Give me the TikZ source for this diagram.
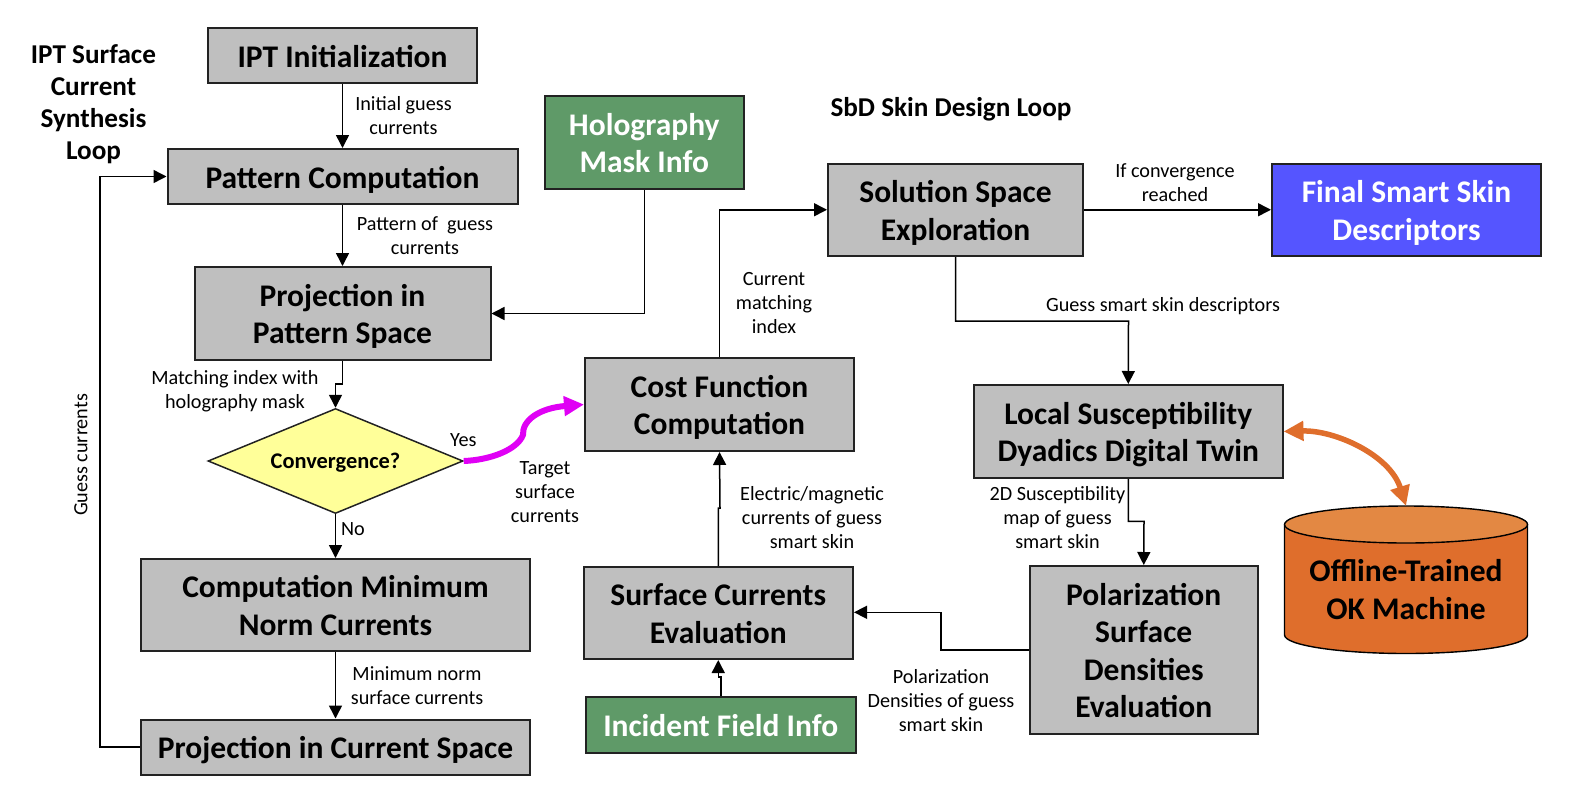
\documentclass[tikz,border=0pt]{standalone}
\usepackage{fontspec}
\setmainfont{Carlito}
\usetikzlibrary{arrows.meta,shapes.geometric,calc}
\definecolor{boxgray}{HTML}{BFBFBF}
\definecolor{dk}{HTML}{222222}
\definecolor{holo}{HTML}{5F9A68}
\definecolor{finalb}{HTML}{5555FF}
\definecolor{orangeb}{HTML}{DF6E2C}
\definecolor{oranget}{HTML}{E38843}
\definecolor{magn}{HTML}{E000F5}
\definecolor{yell}{HTML}{FFFF99}
\tikzset{
 x=1pt,y=-1pt,
 box/.style={draw=dk,line width=2pt,fill=boxgray,align=center,font=\fontsize{31.5}{37.6}\selectfont\bfseries,inner sep=0pt,text=black,text depth=6pt},
 green box/.style={box,fill=holo,text=white},
 blue box/.style={box,fill=finalb,text=white},
 lab/.style={align=center,font=\fontsize{20.2}{24}\selectfont,inner sep=0pt,text=black},
 title/.style={align=center,font=\fontsize{27.2}{32}\selectfont\bfseries,inner sep=0pt,text=black},
 conn/.style={draw=black,line width=1.5pt,-{Triangle[length=13pt,width=13pt]}},
}
\newcommand{\bx}[7][box]{\node[#1,minimum width={#4-#3},minimum height={#6-#5}] (#2) at ({(#3+#4)/2},{(#5+#6)/2}) {\rule{0pt}{29pt}#7};}
\begin{document}
\begin{tikzpicture}
\useasboundingbox (0,0) rectangle (1592,806);
\bx{init}{208}{477}{28}{83}{IPT Initialization}
\bx{patt}{167.5}{517.5}{149}{204}{Pattern Computation}
\bx{proj}{194.5}{490.5}{267}{360}{Projection in\\Pattern Space}
\bx[green box]{holo}{544.5}{744}{96}{189}{Holography\\Mask Info}
\node[diamond,aspect=2.44,draw=dk,line width=1.5pt,fill=yell,inner sep=0pt,minimum width=255pt,minimum height=105pt,font=\fontsize{22.4}{24}\selectfont\bfseries,text depth=1pt] (conv) at (335.5,461) {Convergence?};
\bx{minn}{141}{530}{559}{651}{Computation Minimum\\Norm Currents}
\bx{pcur}{141}{530}{719.5}{774.5}{Projection in Current Space}
\bx{cost}{585}{854}{358}{451}{Cost Function\\Computation}
\bx{surf}{583.5}{853}{567}{659}{Surface Currents\\Evaluation}
\bx[green box]{inc}{586}{855.5}{697}{753}{Incident Field Info}
\bx{sol}{828}{1083}{163.5}{256}{Solution Space\\Exploration}
\bx[blue box]{fin}{1272}{1541}{163.5}{256}{Final Smart Skin\\Descriptors}
\bx{loc}{973.5}{1283}{385}{478}{Local Susceptibility\\Dyadics Digital Twin}
\bx{pol}{1029.5}{1258}{566}{734}{Polarization\\Surface\\Densities\\Evaluation}
% cylinder
\coordinate (cylT) at (1406,506);
\path[draw=black,line width=1.4pt,fill=orangeb] (1284.5,525) -- (1284.5,635) arc[start angle=180,end angle=360,x radius=121.5,y radius=-18.5] -- (1527.5,525) -- cycle;
\path[draw=black,line width=1.4pt,fill=oranget] (1406,524.5) ellipse [x radius=121.5,y radius=18.5];
\node[align=center,font=\fontsize{31.5}{37.6}\selectfont\bfseries,inner sep=0pt,text depth=6pt] (okm) at (1406,590) {\rule{0pt}{27pt}Offline-Trained\\OK Machine};
% connectors
\draw[conn] (init.south) -- (init.south |- patt.north);
\draw[conn] (patt.south) -- (patt.south |- proj.north);
\draw[conn] (holo.south) |- (proj.east);
\coordinate (e1) at (335.5,384);
\draw[conn] (proj.south) |- (e1) -- (conv.north);
\draw[conn] (conv.south) -- (conv.south |- minn.north);
\draw[conn] (minn.south) -- (pcur.north);
\coordinate (l1) at (100,176.5);
\draw[conn] (pcur.west) -| (l1) -- (patt.west);
\coordinate (j1) at (720,508);
\draw[conn] (surf.north) |- (j1) -- (cost.south);
\draw[conn] (inc.north) -- ++(0,-19) -| (surf.south);
\draw[conn] (cost.north) |- (sol.west);
\draw[conn] (sol.east) -- (fin.west);
\coordinate (m1) at (1128.5,321);
\draw[conn] (sol.south) |- (m1) -- (loc.north);
\coordinate (m2) at (1144,521.3);
\draw[conn] (loc.south) |- (m2) -- (pol.north);
\coordinate (m3) at (941,612.3);
\draw[conn] (pol.west) -| (m3) -- (surf.east |- m3);
\draw[draw=magn,line width=6pt,-{Triangle[length=20pt,width=19pt]}] (conv.east) .. controls (490,460) and (517,450) .. (523,435) .. controls (522,420) and (540,408) .. (cost.west);
\draw[draw=orangeb,line width=5.5pt,{Triangle[length=20pt,width=19pt]}-{Triangle[length=20pt,width=19pt]}] (1283.5,431.5) .. controls (1335,430) and (1390,455) .. (cylT);
% labels
\node[title] at (93.5,104) {IPT Surface\\Current\\Synthesis\\Loop};
\node[title] (t2) at (951,109) {SbD Skin Design Loop};
\node[lab] at (403.5,116) {Initial guess\\currents};
\node[lab] at (425,236) {Pattern of\ \ guess\\currents};
\node[lab] at (235,391) {Matching index with\\holography mask};
\node[lab,anchor=west] at (450,440.5) {Yes};
\node[lab] at (353,529) {No};
\node[lab] at (545,492) {Target\\surface\\currents};
\node[lab,rotate=90] at (81,455) {Guess currents};
\node[lab] at (417,686) {Minimum norm\\surface currents};
\node[lab] at (774,303) {Current\\matching\\index};
\node[lab] at (812,518) {Electric/magnetic\\currents of guess\\smart skin};
\node[lab] at (1175,183) {If convergence\\reached};
\node[lab] at (1163,306) {Guess smart skin descriptors};
\node[lab] at (1057.5,518) {2D Susceptibility\\map of guess\\smart skin};
\node[lab] at (941,701) {Polarization\\Densities of guess\\smart skin};
\end{tikzpicture}
\end{document}
